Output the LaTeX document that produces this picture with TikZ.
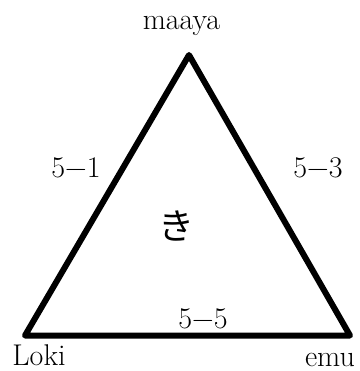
\documentclass[tikz,border=0pt]{standalone}
\usepackage{fontspec}
\newfontfamily\cjk{Noto Sans CJK JP}
\begin{document}
\begin{tikzpicture}[x=1pt,y=-1pt,
  lbl/.style={font=\fontsize{30}{34}\selectfont, inner sep=0pt, anchor=base},
  edge/.style={line width=6pt, line join=round, line cap=round}]
\useasboundingbox (0,0) rectangle (359,371);
\coordinate (T) at (189,55);
\coordinate (L) at (25,335.5);
\coordinate (R) at (350,335.5);
\draw[edge] (T) -- (L) -- (R) -- cycle;
\node[lbl] (maaya) at (181.5,30) {maaya};
\node[lbl] (loki) at (39,365) {Loki};
\node[lbl] (emu) at (330,366) {emu};
\node[lbl] (e51) at (76,177) {5−1};
\node[lbl] (e53) at (318,177) {5−3};
\node[lbl] (e55) at (203,328) {5−5};
\node[lbl, font=\fontsize{36}{40}\cjk\selectfont, anchor=center] (ki) at (176,226) {き};
\end{tikzpicture}
\end{document}
